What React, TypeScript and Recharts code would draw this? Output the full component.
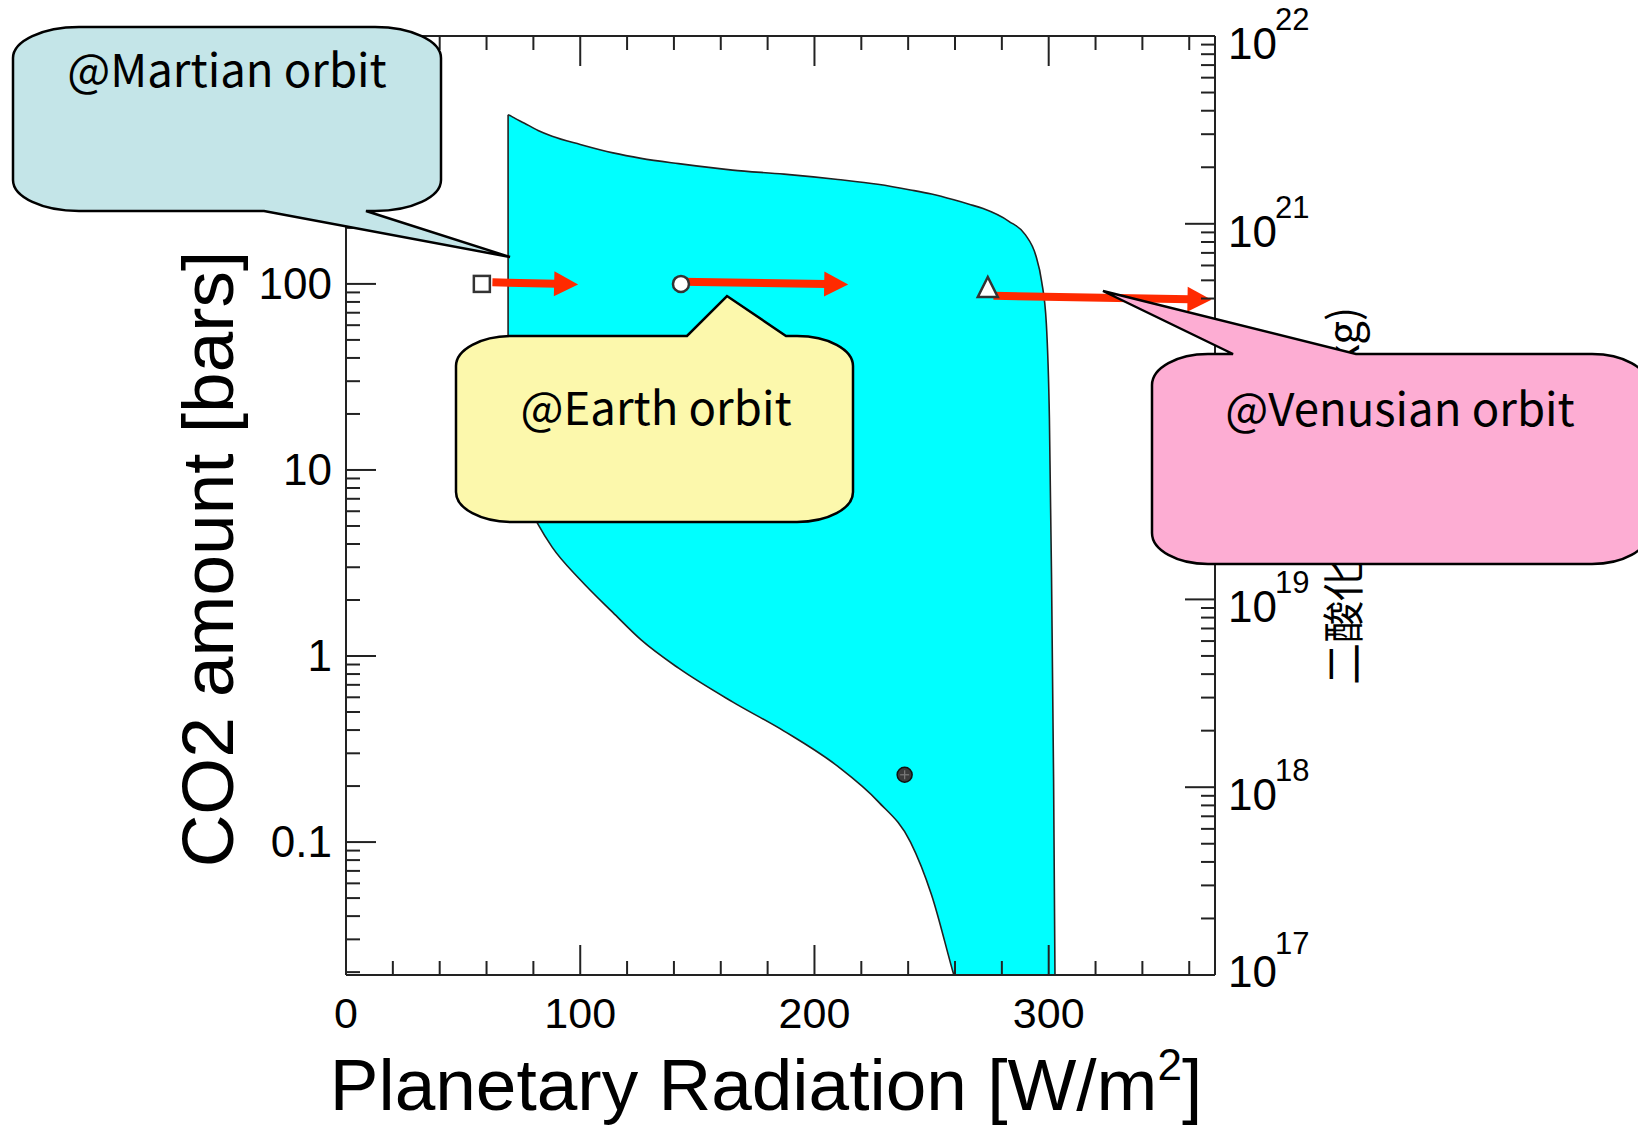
import React from 'react';
import { ComposedChart, Area, Scatter, XAxis, YAxis, ReferenceLine } from 'recharts';

const W = 1638;
const H = 1126;
const INK = '#222';
const SANS = "'Liberation Sans', Arial, Helvetica, sans-serif";
const GOTHIC = "'Noto Sans CJK JP', 'Noto Sans', sans-serif";

// habitable band: sampled planetary radiation [W/m2] with lower / upper CO2 edge [bars]
const radiation = [69.2, 70, 72, 76, 82, 88, 100, 114, 126, 142, 165, 187, 210, 227, 241, 250, 259.5, 266, 272, 283, 290, 294.5, 297, 299, 300.3, 301.2, 302.1, 302.8];
const co2Low = [18.6, 13, 9.8, 7.2, 5.1, 3.85, 2.57, 1.71, 1.22, 0.86, 0.567, 0.395, 0.255, 0.166, 0.1, 0.052, 0.0193, 0.0102, 0.0057, 0.003, 0.0017, 0.0012, 0.001, 0.0008, 0.0007, 0.0006, 0.0005, 0.0004];
const co2High = [812, 803, 778, 733, 668, 622, 562, 506, 473, 443, 409, 389, 364, 343, 320, 304, 283, 268, 254, 217, 184, 142, 103, 61, 19, 2.75, 0.21, 0.012];

// planet positions at 100 bars and today's Earth
const marsOrbit = [{ x: 58, y: 100 }];
const earthOrbit = [{ x: 143, y: 100 }];
const venusOrbit = [{ x: 274, y: 95 }];
const earthToday = [{ x: 238.5, y: 0.23 }];

// shift of each planet when the sun brightens
const shiftFrom = [{ x: 62.5, y: 102 }, { x: 143.3, y: 102.7 }, { x: 276.4, y: 86.3 }];
const shiftTo = [{ x: 99.1, y: 99.4 }, { x: 214.4, y: 99.4 }, { x: 369.5, y: 82.3 }];

// axes
const xDomain = [0, 371];
const xTicks = [0, 20, 40, 60, 80, 100, 120, 140, 160, 180, 200, 220, 240, 260, 280, 300, 320, 340, 360];
const co2Domain = [0.0193, 2150];
const co2Labels = [0.1, 1, 10, 100];
const massDomain = [1e17, 1e22];

const band = radiation.map((x, i) => ({ x, band: [co2Low[i], co2High[i]] }));

const logTicks = (lo: number, hi: number) => {
  const out: number[] = [];
  for (let e = Math.floor(Math.log10(lo)); e <= Math.ceil(Math.log10(hi)); e++) {
    for (let m = 1; m < 10; m++) {
      const v = m * Math.pow(10, e);
      if (v >= lo && v <= hi) out.push(v);
    }
  }
  return out;
};
const isDecade = (v: number) => Math.abs(Math.log10(v) - Math.round(Math.log10(v))) < 1e-6;

const BottomTick = ({ x, y, payload }: any) => {
  const v = payload.value;
  const major = v % 100 === 0;
  return (
    <g>
      <line x1={x} y1={y} x2={x} y2={y - (major ? 30 : 14)} stroke={INK} strokeWidth={2} />
      {major && (
        <text x={x} y={y + 53} textAnchor="middle" fontSize={43} fontFamily={SANS} fill="#000">
          {v}
        </text>
      )}
    </g>
  );
};

const TopTick = ({ x, y, payload }: any) => {
  const major = payload.value % 100 === 0;
  return <line x1={x} y1={y} x2={x} y2={y + (major ? 30 : 14)} stroke={INK} strokeWidth={2} />;
};

const LeftTick = ({ x, y, payload }: any) => {
  const v = payload.value;
  const major = isDecade(v);
  const labelled = co2Labels.some((l) => Math.abs(l - v) < 1e-9);
  return (
    <g>
      <line x1={x} y1={y} x2={x + (major ? 30 : 14)} y2={y} stroke={INK} strokeWidth={2} />
      {labelled && (
        <text x={x - 14} y={y} dy={15} textAnchor="end" fontSize={44} fontFamily={SANS} fill="#000">
          {v >= 1 ? String(Math.round(v)) : String(v)}
        </text>
      )}
    </g>
  );
};

const RightTick = ({ x, y, payload }: any) => {
  const v = payload.value;
  const major = isDecade(v);
  // the bottom label is nudged up so it stays beside the frame corner
  const atFloor = Math.abs(v - massDomain[0]) < 1;
  return (
    <g>
      <line x1={x} y1={y} x2={x - (major ? 30 : 14)} y2={y} stroke={INK} strokeWidth={2} />
      {major && (
        <g fontFamily={SANS} fill="#000">
          <text x={x + 13} y={y + (atFloor ? 12 : 23)} fontSize={44}>10</text>
          <text x={x + 60} y={y - (atFloor ? 21 : 6)} fontSize={31}>{Math.round(Math.log10(v))}</text>
        </g>
      )}
    </g>
  );
};

const Arrow = (props: any) => {
  const { x1, y1, x2, y2 } = props;
  const a = Math.atan2(y2 - y1, x2 - x1);
  const head = 24;
  const half = 12.5;
  const bx = x2 - head * Math.cos(a);
  const by = y2 - head * Math.sin(a);
  const nx = -Math.sin(a) * half;
  const ny = Math.cos(a) * half;
  return (
    <g>
      <line x1={x1} y1={y1} x2={bx + 2 * Math.cos(a)} y2={by + 2 * Math.sin(a)} stroke="#ff2a00" strokeWidth={8} />
      <polygon points={`${x2},${y2} ${bx + nx},${by + ny} ${bx - nx},${by - ny}`} fill="#ff2a00" />
    </g>
  );
};

const OpenSquare = ({ cx, cy }: any) => (
  <rect x={cx - 8} y={cy - 8} width={16} height={16} fill="#fff" stroke="#333" strokeWidth={2.5} />
);
const OpenCircle = ({ cx, cy }: any) => <circle cx={cx} cy={cy} r={8} fill="#fff" stroke="#333" strokeWidth={2.5} />;
const OpenTriangle = ({ cx, cy }: any) => (
  <polygon points={`${cx},${cy - 11} ${cx + 10},${cy + 9} ${cx - 10},${cy + 9}`} fill="#fff" stroke="#333" strokeWidth={2.5} />
);
const EarthSymbol = ({ cx, cy }: any) => (
  <g>
    <circle cx={cx} cy={cy} r={7.5} fill="#3c3c3c" stroke="#111" strokeWidth={1.5} />
    <line x1={cx - 4.5} y1={cy} x2={cx + 4.5} y2={cy} stroke="#777" strokeWidth={1.3} />
    <line x1={cx} y1={cy - 4.5} x2={cx} y2={cy + 4.5} stroke="#777" strokeWidth={1.3} />
  </g>
);

type Bubble = {
  x0: number; y0: number; x1: number; y1: number; rx: number; ry: number;
  edge: 'top' | 'bottom'; a: number; b: number; tipX: number; tipY: number;
  fill: string; text: string; tx: number; ty: number;
};

const bubbles: Bubble[] = [
  { x0: 13, y0: 27, x1: 441, y1: 211, rx: 66, ry: 31, edge: 'bottom', a: 264, b: 366, tipX: 510, tipY: 257, fill: '#c4e5e8', text: '@Martian orbit', tx: 227, ty: 87 },
  { x0: 456, y0: 336, x1: 853, y1: 522, rx: 56, ry: 30, edge: 'top', a: 687, b: 786, tipX: 727, tipY: 296, fill: '#fcf8ac', text: '@Earth orbit', tx: 656, ty: 425 },
  { x0: 1152, y0: 354, x1: 1648, y1: 564, rx: 56, ry: 31, edge: 'top', a: 1233, b: 1356, tipX: 1103, tipY: 291, fill: '#fdadd3', text: '@Venusian orbit', tx: 1400, ty: 426 },
];

const bubblePath = (c: Bubble) => {
  const { x0, y0, x1, y1, rx, ry } = c;
  const top = c.edge === 'top' ? `L${c.a},${y0} L${c.tipX},${c.tipY} L${c.b},${y0} ` : '';
  const bottom = c.edge === 'bottom' ? `L${c.b},${y1} L${c.tipX},${c.tipY} L${c.a},${y1} ` : '';
  return (
    `M${x0 + rx},${y0} ${top}L${x1 - rx},${y0} A${rx},${ry} 0 0 1 ${x1},${y0 + ry} ` +
    `L${x1},${y1 - ry} A${rx},${ry} 0 0 1 ${x1 - rx},${y1} ${bottom}L${x0 + rx},${y1} ` +
    `A${rx},${ry} 0 0 1 ${x0},${y1 - ry} L${x0},${y0 + ry} A${rx},${ry} 0 0 1 ${x0 + rx},${y0} Z`
  );
};

export default function App() {
  const leftTicks = logTicks(co2Domain[0], co2Domain[1]);
  const rightTicks = logTicks(massDomain[0], massDomain[1]);

  return (
    <div style={{ position: 'relative', width: W, height: H, background: '#fff', fontFamily: SANS }}>
      <style>{'body{margin:0}'}</style>
      <ComposedChart width={W} height={H} data={band} margin={{ top: 0, right: 0, bottom: 0, left: 0 }}>
        <Area
          xAxisId="x"
          yAxisId="left"
          dataKey="band"
          type="monotone"
          fill="#00ffff"
          fillOpacity={1}
          stroke={INK}
          strokeWidth={1.6}
          dot={false}
          activeDot={false}
          isAnimationActive={false}
        />
        <ReferenceLine
          xAxisId="x"
          yAxisId="left"
          segment={[{ x: radiation[0], y: co2Low[0] }, { x: radiation[0], y: co2High[0] }]}
          stroke={INK}
          strokeWidth={1.6}
        />
        <Scatter xAxisId="x" yAxisId="left" data={earthToday} dataKey="y" shape={EarthSymbol} isAnimationActive={false} />
        <Scatter xAxisId="x" yAxisId="left" data={marsOrbit} dataKey="y" shape={OpenSquare} isAnimationActive={false} />
        <Scatter xAxisId="x" yAxisId="left" data={earthOrbit} dataKey="y" shape={OpenCircle} isAnimationActive={false} />
        <Scatter xAxisId="x" yAxisId="left" data={venusOrbit} dataKey="y" shape={OpenTriangle} isAnimationActive={false} />
        {shiftFrom.map((p, i) => (
          <ReferenceLine
            key={i}
            xAxisId="x"
            yAxisId="left"
            segment={[p, shiftTo[i]]}
            shape={Arrow}
            ifOverflow="visible"
          />
        ))}
        <XAxis
          xAxisId="x"
          dataKey="x"
          type="number"
          domain={xDomain}
          allowDataOverflow
          ticks={xTicks}
          interval={0}
          height={151}
          tickSize={0}
          tickMargin={0}
          tickLine={false}
          tick={BottomTick}
          axisLine={{ stroke: INK, strokeWidth: 2 }}
          label={{
            content: () => (
              <text x={766} y={1110} textAnchor="middle" fontSize={73} fontFamily={SANS} fill="#000">
                Planetary Radiation [W/m
                <tspan fontSize={44} dy={-30}>2</tspan>
                <tspan dy={30}>]</tspan>
              </text>
            ),
          }}
        />
        <XAxis
          xAxisId="top"
          dataKey="x"
          orientation="top"
          type="number"
          domain={xDomain}
          allowDataOverflow
          ticks={xTicks}
          interval={0}
          height={36}
          tickSize={0}
          tickMargin={0}
          tickLine={false}
          tick={TopTick}
          axisLine={{ stroke: INK, strokeWidth: 2 }}
        />
        <YAxis
          yAxisId="left"
          type="number"
          scale="log"
          domain={co2Domain}
          allowDataOverflow
          ticks={leftTicks}
          interval={0}
          width={346}
          tickSize={0}
          tickMargin={0}
          tickLine={false}
          tick={LeftTick}
          axisLine={{ stroke: INK, strokeWidth: 2 }}
          label={{
            content: () => (
              <text x={233} y={559} transform="rotate(-90 233 559)" textAnchor="middle" fontSize={73} fontFamily={SANS} fill="#000">
                CO2 amount [bars]
              </text>
            ),
          }}
        />
        <YAxis
          yAxisId="right"
          orientation="right"
          type="number"
          scale="log"
          domain={massDomain}
          allowDataOverflow
          ticks={rightTicks}
          interval={0}
          width={423}
          tickSize={0}
          tickMargin={0}
          tickLine={false}
          tick={RightTick}
          axisLine={{ stroke: INK, strokeWidth: 2 }}
          label={{
            content: () => (
              <text x={1340} y={496} transform="rotate(-90 1340 496)" textAnchor="middle" dominantBaseline="central" fontSize={42} fontFamily={GOTHIC} fill="#000">
                二酸化炭素の量 (kg)
              </text>
            ),
          }}
        />
      </ComposedChart>
      <svg width={W} height={H} style={{ position: 'absolute', left: 0, top: 0, pointerEvents: 'none' }}>
        {bubbles.map((c) => (
          <g key={c.text}>
            <path d={bubblePath(c)} fill={c.fill} stroke="#000" strokeWidth={2.5} strokeLinejoin="miter" />
            <text x={c.tx} y={c.ty} textAnchor="middle" fontSize={45.5} fontFamily={GOTHIC} fill="#000">
              {c.text}
            </text>
          </g>
        ))}
      </svg>
    </div>
  );
}
